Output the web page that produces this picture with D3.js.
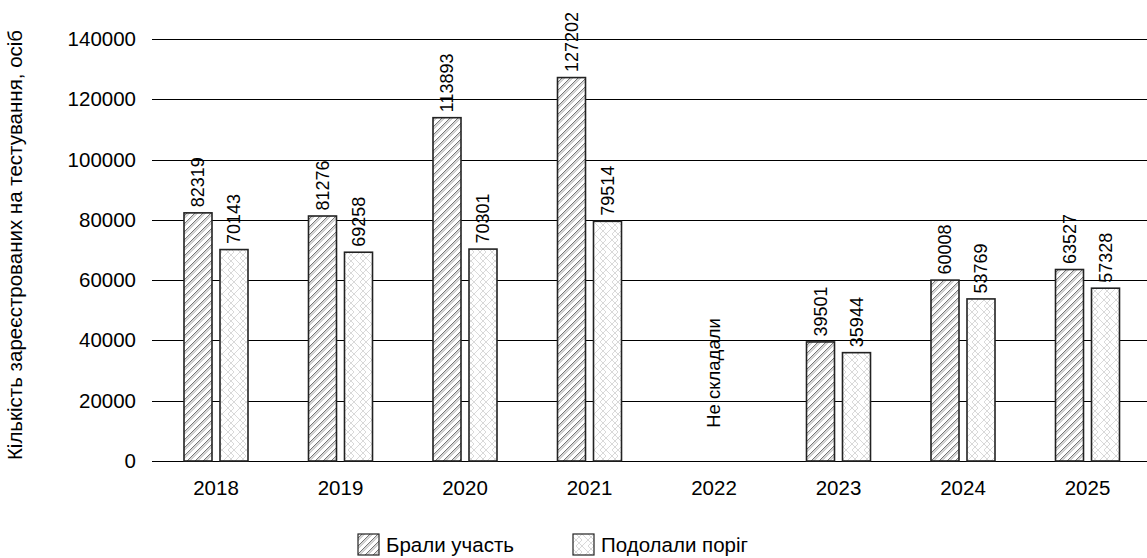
<!DOCTYPE html>
<html>
<head>
<meta charset="utf-8">
<script src="https://cdn.jsdelivr.net/npm/d3@7"></script>
<style>
  body { margin: 0; background: #fff; }
  text { font-family: "Liberation Sans", Arial, sans-serif; fill: #000; }
</style>
</head>
<body>
<script>
var years = ['2018','2019','2020','2021','2022','2023','2024','2025'];
var took = [82319, 81276, 113893, 127202, null, 39501, 60008, 63527];
var passed = [70143, 69258, 70301, 79514, null, 35944, 53769, 57328];
var seriesNames = ['Брали участь', 'Подолали поріг'];
var yTicks = [0, 20000, 40000, 60000, 80000, 100000, 120000, 140000];
var noDataText = 'Не складали';
var yTitle = 'Кількість зареєстрованих на тестування, осіб';

var width = 1147, height = 558;
var ff = '"Liberation Sans", Arial, sans-serif';

var svg = d3.select('body').append('svg').attr('width', width).attr('height', height);

var defs = svg.append('defs');
// diagonal hatch
var p1 = defs.append('pattern').attr('id','hatch').attr('patternUnits','userSpaceOnUse')
  .attr('width',8).attr('height',8);
p1.append('rect').attr('width',8).attr('height',8).attr('fill','#fff');
p1.append('path').attr('d','M-2,10 L10,-2 M-2,2 L2,-2 M6,10 L10,6')
  .attr('stroke','#666').attr('stroke-width',0.9);
p1.append('path').attr('d','M-0.5,10 L10,-0.5 M-2,3.5 L3.5,-2 M7.5,10 L10,7.5')
  .attr('stroke','#888').attr('stroke-width',0.7);
p1.append('path').attr('d','M1,10 L10,1 M-2,5 L5,-2 M9,10 L10,9')
  .attr('stroke','#aaa').attr('stroke-width',0.6);
// herringbone
var p2 = defs.append('pattern').attr('id','herring').attr('patternUnits','userSpaceOnUse')
  .attr('width',12).attr('height',12);
p2.append('rect').attr('width',12).attr('height',12).attr('fill','#fff');
p2.append('path').attr('d','M0,0 L6,6 L0,12 M6,6 L12,0 M6,-6 L12,0 M6,6 L12,12 M6,18 L12,12 M0,6 L6,0 M0,6 L6,12')
  .attr('fill','none').attr('stroke','#cfcfcf').attr('stroke-width',0.8);

var x = d3.scaleBand().domain(years).range([153.75, 1149.75]);
var y = d3.scaleLinear().domain([0, 140000]).range([461, 39]);

// grid
svg.append('g').selectAll('line').data(yTicks).enter().append('line')
  .attr('x1', 152).attr('x2', width)
  .attr('y1', function(d){ return Math.round(y(d)) + 0.5; })
  .attr('y2', function(d){ return Math.round(y(d)) + 0.5; })
  .attr('stroke', '#000').attr('stroke-width', 1);

var yAxis = d3.axisLeft(y).tickValues(yTicks).tickSize(0).tickPadding(0).tickFormat(d3.format('d'));
var ga = svg.append('g').attr('transform','translate(136,0)').call(yAxis);
ga.select('.domain').remove();
ga.selectAll('text').attr('font-size', 20.5).attr('font-family', ff).attr('fill','#000');

var xAxis = d3.axisBottom(x).tickSize(0).tickPadding(0);
var gx = svg.append('g').attr('transform','translate(0,480)').call(xAxis);
gx.select('.domain').remove();
gx.selectAll('text').attr('font-size', 20.5).attr('font-family', ff).attr('fill','#000');

var bw = 28, gap = 4;
var series = [took, passed];
var fills = ['url(#hatch)', 'url(#herring)'];

series.forEach(function(vals, s){
  var g = svg.append('g');
  var data = years.map(function(yr, i){ return {yr: yr, v: vals[i]}; }).filter(function(d){ return d.v != null; });
  function bx(d){ var c = x(d.yr) + x.bandwidth()/2; return s === 0 ? c - gap - bw : c + gap; }
  g.selectAll('rect').data(data).enter().append('rect')
    .attr('x', function(d){ return bx(d); })
    .attr('y', function(d){ return y(d.v); })
    .attr('width', bw)
    .attr('height', function(d){ return y(0) - y(d.v); })
    .attr('fill', fills[s]).attr('stroke', '#222').attr('stroke-width', 1.6);
  g.selectAll('text').data(data).enter().append('text')
    .attr('transform', function(d){ return 'translate(' + (bx(d) + bw/2) + ',' + (y(d.v) - 5.5) + ') rotate(-90)'; })
    .attr('dy', '0.35em')
    .attr('font-size', 18)
    .text(function(d){ return d.v; });
});

// missing year note
years.forEach(function(yr, i){
  if (took[i] == null) {
    svg.append('text')
      .attr('transform', 'translate(' + (x(yr) + x.bandwidth()/2) + ',' + y(11000) + ') rotate(-90)')
      .attr('dy', '0.35em').attr('font-size', 18.5).text(noDataText);
  }
});

svg.append('text')
  .attr('transform', 'translate(15,245) rotate(-90)')
  .attr('text-anchor', 'middle').attr('dy', '0.35em')
  .attr('font-size', 20.5).text(yTitle);

// legend
var legX = [358, 573];
seriesNames.forEach(function(n, i){
  svg.append('rect').attr('x', legX[i]).attr('y', 534).attr('width', 21).attr('height', 21)
    .attr('fill', fills[i]).attr('stroke', '#222').attr('stroke-width', 1.2);
  svg.append('text').attr('x', legX[i] + 28).attr('y', 545).attr('dy', '0.35em')
    .attr('font-size', 20.5).text(n);
});
</script>
</body>
</html>
